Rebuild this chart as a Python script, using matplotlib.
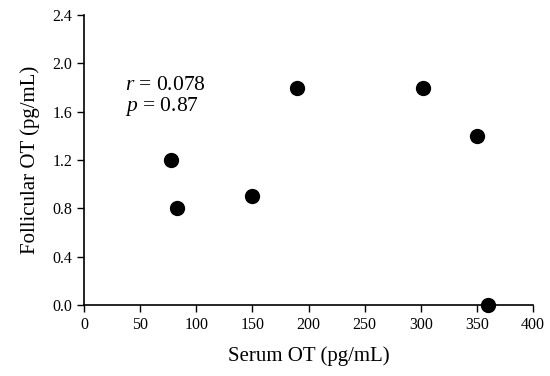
import matplotlib
matplotlib.use('Agg')
import matplotlib.pyplot as plt
import numpy as np

plt.rcParams['font.family'] = ['Liberation Serif', 'DejaVu Serif']
plt.rcParams['mathtext.fontset'] = 'custom'
plt.rcParams['mathtext.rm'] = 'Liberation Serif'
plt.rcParams['mathtext.it'] = 'Liberation Serif:italic'

serum_ot = [77, 83, 150, 190, 302, 350, 360]
follicular_ot = [1.2, 0.8, 0.9, 1.8, 1.8, 1.4, 0.0]
x_ticks = np.arange(0, 401, 50)
y_ticks = np.arange(0, 2.41, 0.4)

fig = plt.figure(figsize=(5.5, 3.76), dpi=100)
ax = fig.add_axes([0.153, 0.189, 0.816, 0.771])

ax.scatter(serum_ot, follicular_ot, s=100, color='black', zorder=3, clip_on=False)

ax.set_xlim(0, 400)
ax.set_ylim(0, 2.4)
ax.set_xticks(x_ticks)
ax.set_yticks(y_ticks)
ax.set_yticklabels(['%.1f' % v for v in y_ticks])
ax.tick_params(labelsize=11.5, direction='out', length=5, width=1, color='black')
ax.spines['top'].set_visible(False)
ax.spines['right'].set_visible(False)
ax.spines['left'].set_linewidth(1.2)
ax.spines['bottom'].set_linewidth(1.2)

ax.set_xlabel('Serum OT (pg/mL)', fontsize=15, labelpad=10)
ax.set_ylabel('Follicular OT (pg/mL)', fontsize=15, labelpad=9)

ax.text(36, 1.82, r'$r$ = 0.078', fontsize=15.5, va='center')
ax.text(36, 1.64, r'$p$ = 0.87', fontsize=15.5, va='center')

fig.savefig('out.png', dpi=100)
